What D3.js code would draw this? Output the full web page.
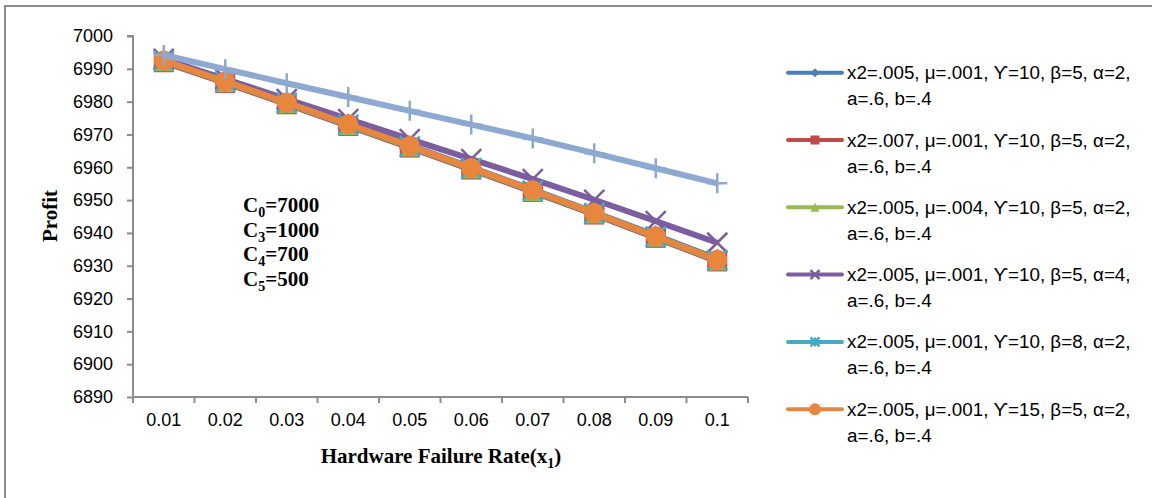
<!DOCTYPE html>
<html>
<head>
<meta charset="utf-8" />
<script src="https://d3js.org/d3.v7.min.js"></script>
<style>
  body { margin: 0; background: #fff; }
  svg { display: block; }
  .tick text { font-family: "Liberation Sans", Arial, sans-serif; font-size: 18px; fill: #000; }
  .titre { font-family: "Liberation Serif", "Times New Roman", serif; font-weight: bold; font-size: 21px; fill: #000; }
  .leg { font-family: "Liberation Sans", Arial, sans-serif; font-size: 18.8px; fill: #000; }
</style>
</head>
<body>
<svg id="chart" width="1152" height="498"></svg>
<script>
// Taux de panne (axe x)
const tauxPanne = ["0.01", "0.02", "0.03", "0.04", "0.05", "0.06", "0.07", "0.08", "0.09", "0.1"];
const yTicks = [6890, 6900, 6910, 6920, 6930, 6940, 6950, 6960, 6970, 6980, 6990, 7000];

// Valeurs
const serieBleu   = [6992.6, 6986.3, 6979.9, 6973.3, 6966.7, 6960.0, 6953.2, 6946.3, 6939.3, 6932.1];
const serieRouge  = [6992.0, 6985.7, 6979.2, 6972.6, 6966.0, 6959.3, 6952.5, 6945.6, 6938.5, 6931.3];
const serieVert   = [6992.3, 6986.0, 6979.5, 6972.9, 6966.3, 6959.6, 6952.8, 6945.9, 6938.8, 6931.6];
const serieViolet = [6993.0, 6986.9, 6980.8, 6974.7, 6968.6, 6962.5, 6956.4, 6950.1, 6943.6, 6937.0];
const serieCyan   = [6992.5, 6986.1, 6979.6, 6973.0, 6966.4, 6959.7, 6952.9, 6946.0, 6938.9, 6931.7];
const serieOrange = [6992.5, 6986.2, 6979.7, 6973.1, 6966.5, 6959.8, 6953.0, 6946.1, 6939.0, 6931.8];
const serieClair  = [6994.2, 6989.9, 6985.6, 6981.4, 6977.2, 6973.0, 6968.8, 6964.3, 6959.7, 6955.1];

const libelles = [
  "x2=.005, μ=.001, ϒ=10, β=5, α=2,",
  "x2=.007, μ=.001, ϒ=10, β=5, α=2,",
  "x2=.005, μ=.004, ϒ=10, β=5, α=2,",
  "x2=.005, μ=.001, ϒ=10, β=5, α=4,",
  "x2=.005, μ=.001, ϒ=10, β=8, α=2,",
  "x2=.005, μ=.001, ϒ=15, β=5, α=2,"
];
const libelle2 = "a=.6, b=.4";

const series = [
  { valeurs: serieBleu,   couleur: "#4A7EBB", marque: "losange", legende: libelles[0] },
  { valeurs: serieRouge,  couleur: "#BE4B48", marque: "carre",   legende: libelles[1] },
  { valeurs: serieVert,   couleur: "#98B954", marque: "triangle",legende: libelles[2] },
  { valeurs: serieViolet, couleur: "#7B5E9F", marque: "croixX",  legende: libelles[3] },
  { valeurs: serieCyan,   couleur: "#46AAC5", marque: "etoile",  legende: libelles[4] },
  { valeurs: serieOrange, couleur: "#E8863E", marque: "rond",    legende: libelles[5] },
  { valeurs: serieClair,  couleur: "#8DA9D1", marque: "plus",    legende: null }
];

const svg = d3.select("#chart");

// cadre du graphique
svg.append("path")
  .attr("d", "M5,498 V6 H1152")
  .attr("fill", "none")
  .attr("stroke", "#8c8c8c")
  .attr("stroke-width", 2);

const x = d3.scaleBand().domain(tauxPanne).range([133, 748]);
const y = d3.scaleLinear().domain([6890, 7000]).range([397, 36]);
const cx = d => x(d) + x.bandwidth() / 2;

// axe Y
const axeY = svg.append("g")
  .attr("transform", "translate(133,0)")
  .call(d3.axisLeft(y).tickValues(yTicks).tickSize(6).tickPadding(14).tickFormat(d3.format("d")));
axeY.selectAll("line, path").attr("stroke", "#8c8c8c").attr("stroke-width", 2);
axeY.select(".domain").attr("d", "M-6,36 H0 V397");

// axe X
const axeX = svg.append("g")
  .attr("transform", "translate(0,397)")
  .call(d3.axisBottom(x).tickSize(0).tickPadding(16));
axeX.select(".domain").attr("stroke", "#8c8c8c").attr("stroke-width", 2).attr("d", "M133,0 H748");
axeX.selectAll(".tick line").remove();
axeX.selectAll(".sep")
  .data(d3.range(tauxPanne.length + 1))
  .enter().append("line")
  .attr("x1", i => 133 + i * x.bandwidth())
  .attr("x2", i => 133 + i * x.bandwidth())
  .attr("y1", 0).attr("y2", 6)
  .attr("stroke", "#8c8c8c").attr("stroke-width", 2);

// Dessin d'une marque
function dessineMarque(g, type, couleur, t) {
  const h = t / 2;
  if (type === "losange") {
    g.append("path").attr("d", `M0,${-h} L${h},0 L0,${h} L${-h},0 Z`).attr("fill", couleur);
  } else if (type === "carre") {
    g.append("rect").attr("x", -h).attr("y", -h).attr("width", t).attr("height", t).attr("fill", couleur);
  } else if (type === "triangle") {
    g.append("path").attr("d", `M0,${-h} L${h},${h} L${-h},${h} Z`).attr("fill", couleur);
  } else if (type === "rond") {
    g.append("circle").attr("r", h).attr("fill", couleur);
  } else if (type === "croixX") {
    g.append("path").attr("d", `M${-h},${-h} L${h},${h} M${h},${-h} L${-h},${h}`)
      .attr("stroke", couleur).attr("stroke-width", 2.5);
  } else if (type === "etoile") {
    g.append("path").attr("d", `M${-h},${-h} L${h},${h} M${h},${-h} L${-h},${h} M0,${-h} V${h}`)
      .attr("stroke", couleur).attr("stroke-width", 2.5);
  } else if (type === "plus") {
    g.append("path").attr("d", `M0,${-h} V${h} M${-h},0 H${h}`)
      .attr("stroke", couleur).attr("stroke-width", 2.5);
  }
}

const ligne = d3.line()
  .x((d, i) => cx(tauxPanne[i]))
  .y(d => y(d));

series.forEach(s => {
  const g = svg.append("g");
  g.append("path")
    .attr("d", ligne(s.valeurs))
    .attr("fill", "none")
    .attr("stroke", s.couleur)
    .attr("stroke-width", 6)
    .attr("stroke-linejoin", "round");
  g.selectAll("g.m")
    .data(s.valeurs)
    .enter().append("g")
    .attr("class", "m")
    .attr("transform", (d, i) => `translate(${cx(tauxPanne[i])},${y(d)})`)
    .each(function () { dessineMarque(d3.select(this), s.marque, s.couleur, 20); });
});

// annotation des coûts
const couts = [["0", "7000"], ["3", "1000"], ["4", "700"], ["5", "500"]];
couts.forEach(([ind, val], i) => {
  const t = svg.append("text").attr("class", "titre").style("font-size", "21px")
    .attr("x", 243).attr("y", 212 + i * 24.5);
  t.append("tspan").text("C");
  t.append("tspan").attr("dy", 5).style("font-size", "14px").text(ind);
  t.append("tspan").attr("dy", -5).text("=" + val);
});

// titres des axes
svg.append("text").attr("class", "titre")
  .attr("transform", "translate(57,216) rotate(-90)")
  .attr("text-anchor", "middle")
  .text("Profit");

const tx = svg.append("text").attr("class", "titre")
  .attr("x", 441).attr("y", 463)
  .attr("text-anchor", "middle");
tx.append("tspan").text("Hardware Failure Rate(x");
tx.append("tspan").attr("dy", 5).style("font-size", "14px").text("1");
tx.append("tspan").attr("dy", -5).text(")");

// légende
const legende = svg.append("g");
const entrees = legende.selectAll("g")
  .data(series.filter(s => s.legende))
  .enter().append("g")
  .attr("transform", (d, i) => `translate(0,${72.7 + i * 67.3})`);
entrees.append("line")
  .attr("x1", 788).attr("x2", 842).attr("y1", 0).attr("y2", 0)
  .attr("stroke", d => d.couleur).attr("stroke-width", 4).attr("stroke-linecap", "round");
entrees.append("g")
  .attr("transform", "translate(815,0)")
  .each(function (d) { dessineMarque(d3.select(this), d.marque, d.couleur, d.marque === "rond" ? 12 : 9); });
entrees.append("text").attr("class", "leg")
  .attr("x", 847).attr("y", 6.5)
  .text(d => d.legende);
entrees.append("text").attr("class", "leg")
  .attr("x", 847).attr("y", 32.5)
  .text(libelle2);
</script>
</body>
</html>
